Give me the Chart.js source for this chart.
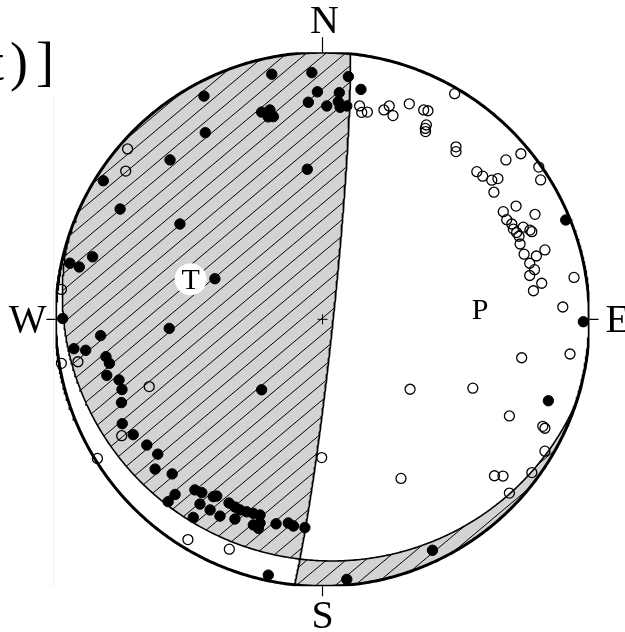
<!DOCTYPE html>
<html>
<head>
<meta charset="utf-8">
<script src="https://cdn.jsdelivr.net/npm/chart.js@4.4.1/dist/chart.umd.min.js"></script>
<style>
  html, body { margin: 0; padding: 0; background: #ffffff; overflow: hidden; }
  canvas { display: block; }
</style>
</head>
<body>
<canvas id="c" width="625" height="632"></canvas>
<script>
// ---- Data (stereonet units: primitive radius = 100, x = east, y = north) ----
const nodalStrike = [6, 108];      // degrees
const nodalDip    = [86.8, 11];    // degrees

const compassLabels = ['N', 'E', 'S', 'W'];

const axisLabels = ['T', 'P'];
const axisX = [-49.4, 59.0];
const axisY = [15.0, 3.9];

// compressional first motions (filled)
const filledX = [-19.0,-4.0,9.7,14.4,-1.9,6.3,-5.3,1.6,5.9,6.6,9.1,-22.8,-19.7,-20.3,-18.4,-5.7,
  -44.4,-43.9,-57.1,-82.1,-75.8,-53.4,-40.3,
  -86.1,-94.6,-91.1,-97.3,-57.4,-83.1,-93.1,-88.7,-81.1,-79.8,-80.8,-76.2,-75.1,-75.3,-75.0,-70.9,-65.8,-61.7,-62.7,-56.3,-22.8,
  -47.8,-45.2,-55.2,-57.8,-40.9,-45.9,-42.1,-38.4,-48.4,-35.0,-32.8,-30.9,-28.4,-25.9,-23.4,-32.8,-25.9,-24.0,-23.4,-17.4,-12.8,-10.9,-6.6,-39.6,
  -20.3,41.2,9.1,97.7,84.6,91.1];
const filledY = [91.8,92.4,90.9,86.1,85.2,84.9,81.3,79.9,81.5,79.4,79.9,77.6,78.4,75.8,75.9,56.2,
  83.6,69.9,59.7,51.9,41.3,35.7,15.2,
  23.4,21.0,19.6,0.3,-3.4,-6.1,-11.0,-11.6,-14.0,-16.5,-21.0,-22.7,-26.3,-31.2,-39.1,-43.2,-47.1,-50.5,-56.1,-57.9,-26.4,
  -63.9,-64.9,-65.6,-68.3,-66.4,-69.2,-71.4,-73.7,-74.2,-68.8,-70.3,-71.4,-72.1,-72.7,-73.3,-74.8,-77.0,-78.3,-76.3,-76.6,-76.3,-77.4,-78.0,-66.2,
  -95.8,-86.5,-97.4,-0.9,-30.5,37.2];

// dilatational first motions (open)
const openX = [-73.0,-73.7,-97.8,-97.8,-91.6,-64.9,-75.2,-84.3,-50.4,-34.9,
  13.9,14.7,16.8,23.0,25.0,26.4,32.5,37.9,39.5,38.9,38.5,38.6,49.5,50.0,50.0,
  68.7,74.3,81.0,81.7,57.8,60.0,63.4,65.7,64.2,
  67.7,72.5,79.6,69.0,70.9,71.5,72.7,73.6,75.2,77.7,78.4,74.0,83.3,75.5,80.1,77.6,79.4,77.6,82.1,79.0,94.2,90.0,
  74.6,92.7,32.8,56.3,70.0,82.5,83.3,83.3,78.4,64.4,67.6,70.0,29.4,-0.3];
const openY = [63.8,55.5,11.2,-16.5,-15.9,-25.2,-43.6,-52.1,-82.5,-86.1,
  79.9,77.5,77.6,78.4,79.9,76.3,80.7,78.4,78.1,72.8,71.5,70.3,84.5,64.6,62.8,
  59.7,62.0,57.0,52.2,55.3,53.6,52.1,52.7,47.6,
  40.3,42.4,39.3,37.3,35.7,33.8,32.5,31.1,34.5,33.4,32.8,28.2,26.0,24.4,23.7,21.0,18.6,16.4,13.5,10.7,15.7,4.6,
  -14.4,-13.0,-26.2,-25.8,-36.2,-40.1,-40.8,-49.4,-57.4,-58.6,-58.7,-65.1,-59.6,-51.8];

// ---- geometry helpers (lower-hemisphere equal-area projection) ----
const RAD = Math.PI / 180;
function greatCircle(strike, dip) {
  const pts = [];
  const sv = [Math.cos(strike * RAD), Math.sin(strike * RAD), 0];
  const dv = [Math.cos((strike + 90) * RAD) * Math.cos(dip * RAD),
              Math.sin((strike + 90) * RAD) * Math.cos(dip * RAD),
              Math.sin(dip * RAD)];
  for (let t = 0; t <= 180; t += 0.5) {
    const c = Math.cos(t * RAD), s = Math.sin(t * RAD);
    const v = [sv[0] * c + dv[0] * s, sv[1] * c + dv[1] * s, sv[2] * c + dv[2] * s];
    const plunge = Math.asin(Math.max(-1, Math.min(1, v[2])));
    const trend = Math.atan2(v[1], v[0]);
    const rho = 100 * Math.SQRT2 * Math.sin((Math.PI / 2 - plunge) / 2);
    pts.push({ x: rho * Math.sin(trend), y: rho * Math.cos(trend) });
  }
  return pts;
}
function arc(a0, a1) {
  const pts = [];
  const n = Math.max(2, Math.ceil(Math.abs(a1 - a0) * 2));
  for (let i = 0; i <= n; i++) {
    const a = (a0 + (a1 - a0) * i / n) * RAD;
    pts.push({ x: 100 * Math.sin(a), y: 100 * Math.cos(a) });
  }
  return pts;
}

const plane1 = greatCircle(nodalStrike[0], nodalDip[0]);
const plane2 = greatCircle(nodalStrike[1], nodalDip[1]);
const primitive = arc(0, 360);

const s1 = nodalStrike[0], s2 = nodalStrike[1];
const westOf1  = plane1.concat(arc(s1 + 180, s1 + 360));
const eastOf1  = plane1.concat(arc(s1 + 180, s1));
const northOf2 = plane2.concat(arc(s2 + 180, s2 + 360));
const southOf2 = plane2.concat(arc(s2 + 180, s2));

const SERIF = '"Liberation Serif", "Times New Roman", serif';

const beachball = {
  id: 'beachball',
  beforeDatasetsDraw(chart) {
    const { ctx, scales: { x, y } } = chart;
    const path = (pts) => {
      ctx.beginPath();
      pts.forEach((p, i) => {
        const px = x.getPixelForValue(p.x), py = y.getPixelForValue(p.y);
        if (i) ctx.lineTo(px, py); else ctx.moveTo(px, py);
      });
      ctx.closePath();
    };
    const cx = x.getPixelForValue(0), cy = y.getPixelForValue(0);
    // faint panel edge at the left
    ctx.save();
    ctx.strokeStyle = '#ededed';
    ctx.lineWidth = 1;
    ctx.beginPath();
    ctx.moveTo(x.getPixelForValue(-100) - 2, y.getPixelForValue(84));
    ctx.lineTo(x.getPixelForValue(-100) - 2, y.getPixelForValue(-100));
    ctx.stroke();
    ctx.restore();
    const regions = [[westOf1, northOf2], [eastOf1, southOf2]];
    regions.forEach(([a, b]) => {
      ctx.save();
      path(a); ctx.clip();
      path(b); ctx.clip();
      ctx.fillStyle = '#d3d3d3';
      ctx.fillRect(0, 0, chart.width, chart.height);
      // hatching
      const ang = 40 * RAD;
      const dx = Math.cos(ang), dy = -Math.sin(ang);
      const h = 19.5;
      const ax = cx - 15.8, ay = cy + 257.4;
      ctx.strokeStyle = '#000';
      ctx.lineWidth = 1;
      ctx.beginPath();
      for (let k = -60; k <= 60; k++) {
        const px = ax + k * h;
        ctx.moveTo(px - 900 * dx, ay - 900 * dy);
        ctx.lineTo(px + 900 * dx, ay + 900 * dy);
      }
      ctx.stroke();
      ctx.restore();
    });
  },
  afterDatasetsDraw(chart) {
    const { ctx, scales: { x, y } } = chart;
    const cx = x.getPixelForValue(0), cy = y.getPixelForValue(0);
    const top = y.getPixelForValue(100), bot = y.getPixelForValue(-100);
    const left = x.getPixelForValue(-100), right = x.getPixelForValue(100);
    ctx.save();
    // compass ticks
    ctx.strokeStyle = '#000';
    ctx.lineWidth = 1.2;
    ctx.beginPath();
    ctx.moveTo(cx, top); ctx.lineTo(cx, top - 15);
    ctx.moveTo(cx, bot); ctx.lineTo(cx, bot + 10);
    ctx.moveTo(left, cy); ctx.lineTo(left - 9, cy);
    ctx.moveTo(right, cy); ctx.lineTo(right + 9, cy);
    ctx.stroke();
    // compass labels
    ctx.fillStyle = '#000';
    ctx.font = '40px ' + SERIF;
    ctx.textBaseline = 'alphabetic';
    ctx.textAlign = 'center';
    ctx.fillText(compassLabels[0], cx + 2, top - 19);
    ctx.fillText(compassLabels[2], cx, bot + 42);
    ctx.textAlign = 'left';
    ctx.fillText(compassLabels[1], right + 16, cy + 12.5);
    ctx.textAlign = 'right';
    ctx.fillText(compassLabels[3], left - 9, cy + 12.5);
    // T / P labels
    ctx.font = '30px ' + SERIF;
    ctx.textAlign = 'center';
    axisLabels.forEach((lab, i) => {
      ctx.fillText(lab, x.getPixelForValue(axisX[i]), y.getPixelForValue(axisY[i]) + 10);
    });
    // cropped title fragment at top-left
    ctx.font = '54px ' + SERIF;
    ctx.textAlign = 'right';
    ctx.fillText('t', 4, 80);
    ctx.textAlign = 'left';
    ctx.fillText(')', 10, 80);
    ctx.fillText(']', 36, 80);
    ctx.restore();
  }
};

const lineStyle = { showLine: true, pointRadius: 0, borderColor: '#000', fill: false, tension: 0 };

new Chart(document.getElementById('c'), {
  type: 'scatter',
  data: {
    datasets: [
      Object.assign({ label: 'primitive', data: primitive, borderWidth: 3, order: 9 }, lineStyle),
      Object.assign({ label: 'plane1', data: plane1, borderWidth: 1.6, order: 8 }, lineStyle),
      Object.assign({ label: 'plane2', data: plane2, borderWidth: 1.6, order: 8 }, lineStyle),
      { label: 'center', data: [{ x: 0, y: 0 }], pointStyle: 'cross', pointRadius: 5, borderColor: '#000', borderWidth: 1, order: 7 },
      { label: 'Tbg', data: [{ x: axisX[0], y: axisY[0] }], pointRadius: 16, backgroundColor: '#fff', borderWidth: 0, order: 6 },
      { label: 'dilatation', data: openX.map((v, i) => ({ x: v, y: openY[i] })),
        pointRadius: 5, backgroundColor: 'rgba(0,0,0,0)', borderColor: '#000', borderWidth: 1.3, order: 2 },
      { label: 'compression', data: filledX.map((v, i) => ({ x: v, y: filledY[i] })),
        pointRadius: 5.2, backgroundColor: '#000', borderColor: '#000', borderWidth: 1, order: 1 }
    ]
  },
  options: {
    responsive: false,
    devicePixelRatio: 1,
    animation: false,
    layout: { padding: { left: 55.5, right: 35.5, top: 52.3, bottom: 45.7 } },
    scales: {
      x: { type: 'linear', min: -100, max: 100, display: false },
      y: { type: 'linear', min: -100, max: 100, display: false }
    },
    plugins: { legend: { display: false }, tooltip: { enabled: false } },
    events: []
  },
  plugins: [beachball]
});
</script>
</body>
</html>
